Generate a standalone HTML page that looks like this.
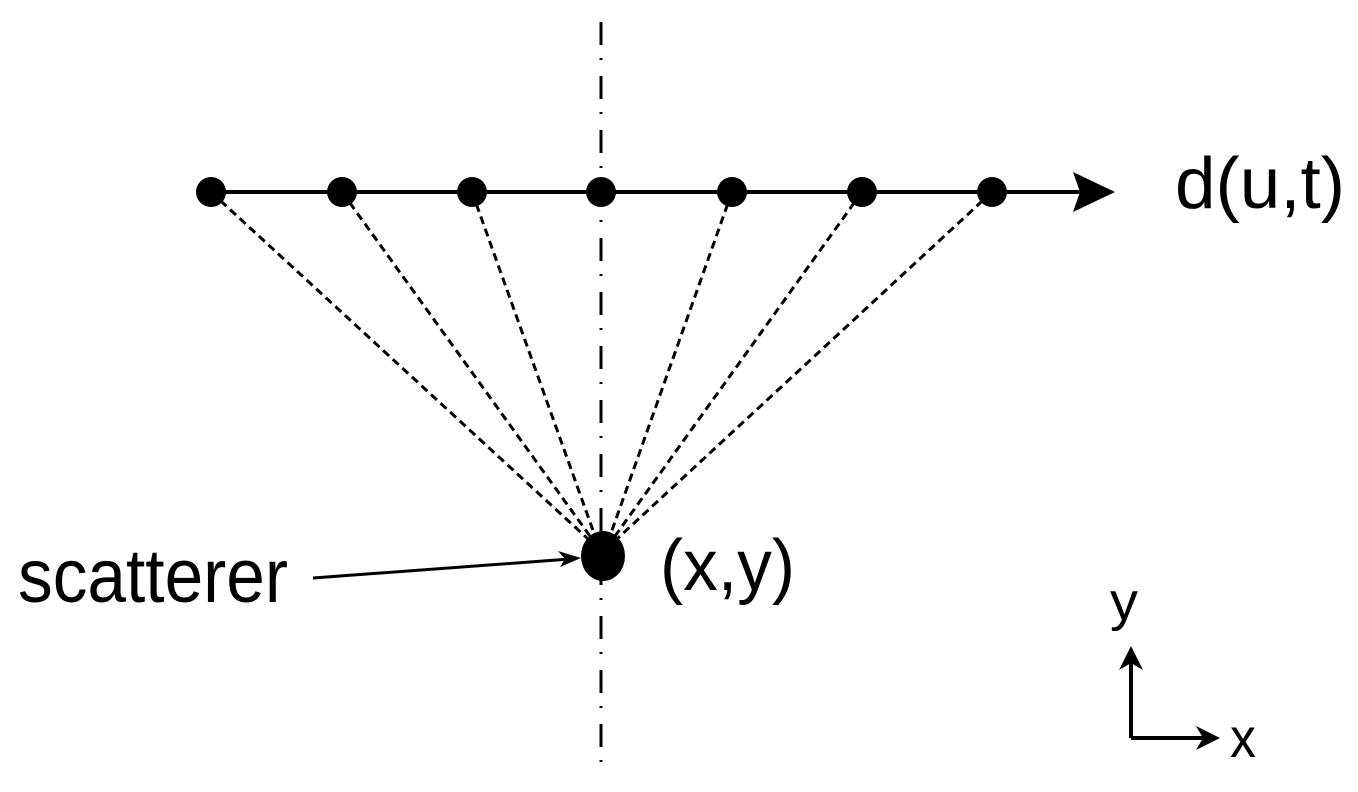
<!DOCTYPE html>
<html><head><style>html,body{margin:0;padding:0;background:#fff;}svg{display:block}</style></head>
<body>
<svg width="1358" height="792" viewBox="0 0 1358 792" xmlns="http://www.w3.org/2000/svg">
<line x1="601" y1="22" x2="601" y2="765" stroke="#000" stroke-width="3" stroke-dasharray="23 13 2 16"/>
<line x1="211" y1="192" x2="1080" y2="192" stroke="#000" stroke-width="4"/>
<path d="M1073,172 L1115,192 L1073,212 L1080,192 z" fill="#000"/>
<g stroke="#000" stroke-width="3" stroke-dasharray="8 5" fill="none">
<line x1="211" y1="192" x2="600" y2="550"/>
<line x1="342" y1="192" x2="600" y2="550"/>
<line x1="472" y1="192" x2="600" y2="550"/>
<line x1="732" y1="192" x2="605" y2="550"/>
<line x1="862" y1="192" x2="605" y2="550"/>
<line x1="992" y1="192" x2="605" y2="550"/>
</g>
<g fill="#000">
<circle cx="211" cy="192" r="15"/><circle cx="342" cy="192" r="15"/><circle cx="472" cy="192" r="15"/><circle cx="601" cy="192" r="15"/><circle cx="732" cy="192" r="15"/><circle cx="862" cy="192" r="15"/><circle cx="992" cy="192" r="15"/>
<ellipse cx="603" cy="556" rx="22" ry="25"/>
</g>
<path d="M313,578 L570,559" stroke="#000" stroke-width="3" fill="none"/>
<path d="M558,551 L581,558 L560,567 L565,559 z" fill="#000"/>
<g font-family="'Liberation Sans',sans-serif" fill="#000">
<text x="1175" y="208" font-size="72" textLength="170" lengthAdjust="spacingAndGlyphs">d(u,t)</text>
<text x="18" y="602" font-size="76" textLength="270" lengthAdjust="spacingAndGlyphs">scatterer</text>
<text x="660" y="590" font-size="72" textLength="135" lengthAdjust="spacingAndGlyphs">(x,y)</text>
<text x="1110" y="620" font-size="54" textLength="28" lengthAdjust="spacingAndGlyphs">y</text>
<text x="1230" y="757" font-size="56" textLength="26" lengthAdjust="spacingAndGlyphs">x</text>
</g>
<path d="M1131,738 L1131,660 M1131,738 L1205,738" stroke="#000" stroke-width="4" fill="none"/>
<path d="M1131,646 L1143,670 L1131,663 L1119,670 z" fill="#000"/>
<path d="M1220,738 L1196,726 L1203,738 L1196,750 z" fill="#000"/>
</svg>
</body></html>
